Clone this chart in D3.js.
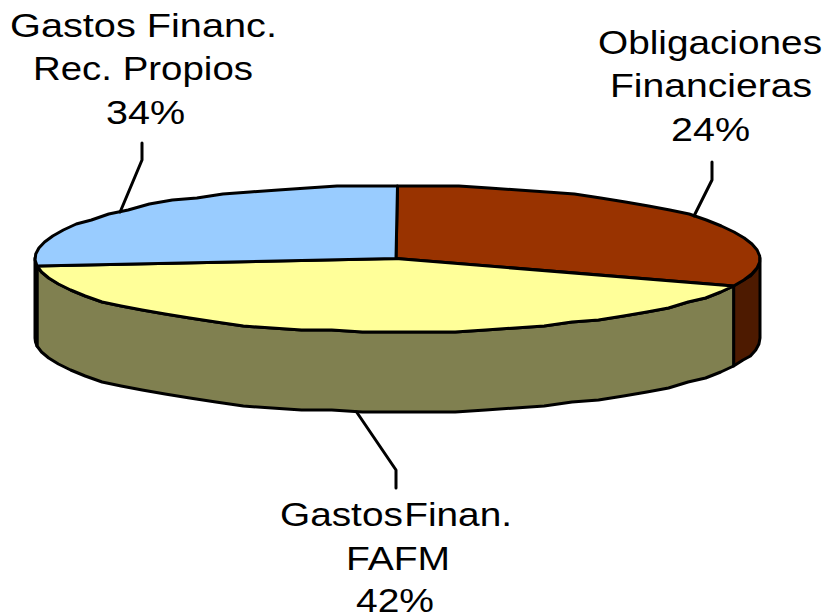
<!DOCTYPE html>
<html><head><meta charset="utf-8">
<script src="https://cdnjs.cloudflare.com/ajax/libs/d3/7.8.5/d3.min.js"></script>
<style>html,body{margin:0;padding:0;background:#fff}svg{display:block}
text{font-family:"Liberation Sans",Arial,sans-serif;fill:#000;font-size:33px}</style>
</head><body><svg id="c" width="825" height="613"></svg>
<script>
const categories = ["Obligaciones Financieras", "Gastos Finan. FAFM", "Gastos Financ. Rec. Propios"];
const values = [24, 42, 34];
const labelLines = [
  ["Obligaciones", "Financieras", "24%"],
  ["Gastos Finan.", "FAFM", "42%"],
  ["Gastos Financ.", "Rec. Propios", "34%"]
];
const topColors = ["#993300", "#FFFF99", "#99CCFF"];
const wallColors = ["#4D1A00", "#808050", "#4D6680"];

// layout
const cx = 397.5, cy = 258.5, rx = 362.5, ry = 73.5, depth = 80, step = 5, grid = 2;
const labelLayout = [
  {lines:[[598,224,54],[610,202,97],[671,79,141]], leader:[[712,162],[712,180]], at:0.49},
  {lines:[[280,232,526],[346,104,570],[356,78,612]], leader:[[396,488],[396,470]], at:0.49},
  {lines:[[10,267,37],[33,220,80],[106,79,124]], leader:[[142,143],[142,160]], at:0.48}
];

const svg = d3.select("#c");
const arcs = d3.pie().sort(null).value(d => d)(values);
// the source's perspective drawing shifts slice boundaries on the ellipse
const bounds = [0, arcs[0].endAngle, arcs[1].endAngle, 2 * Math.PI];
const project = d3.scaleLinear().domain(bounds).range([0, 112, 264, 360].map(d => d * Math.PI / 180));
const px = d3.scaleLinear().domain([-1, 1]).range([cx - rx, cx + rx]);
const py = d3.scaleLinear().domain([-1, 1]).range([cy + ry, cy - ry]);
// the source outline is coarse: heights snap to a small grid
const snap = y => Math.round(y / grid) * grid;
const pt = (t, dz = 0) => [px(Math.sin(t)), snap(py(Math.cos(t))) + dz];
const line = d3.line();
const sample = (a, b) => {
  const n = Math.max(1, Math.ceil(Math.abs(b - a) * 180 / Math.PI / step));
  return d3.range(n + 1).map(i => a + (b - a) * i / n);
};
const styled = s => s.attr("stroke", "#000").attr("stroke-width", 3).attr("stroke-linejoin", "round").attr("stroke-linecap", "round");

// walls (front only)
const wall = (a, b, fill) => {
  const ts = sample(a, b);
  const poly = ts.map(t => pt(t)).concat(ts.slice().reverse().map(t => pt(t, depth)));
  svg.append("path").attr("d", line(poly) + "Z").attr("fill", fill).call(styled);
};
wall(Math.PI / 2, project(arcs[0].endAngle), wallColors[0]);
wall(project(arcs[1].startAngle), project(arcs[1].endAngle), wallColors[1]);
wall(project(arcs[2].startAngle), 3 * Math.PI / 2, wallColors[1]);

// top slices
arcs.forEach((a, i) => {
  const ts = sample(project(a.startAngle), project(a.endAngle));
  const poly = [[cx - 1.5, cy]].concat(ts.map(t => pt(t)));
  svg.append("path").attr("d", line(poly) + "Z").attr("fill", topColors[i]).call(styled);
});

// leaders and labels
arcs.forEach((a, i) => {
  const L = labelLayout[i];
  const t0 = project(a.startAngle), t1 = project(a.endAngle);
  const t = t0 + (t1 - t0) * L.at;
  const end = i === 1 ? pt(t, depth) : pt(t);
  svg.append("path").attr("d", line(L.leader.concat([end]))).attr("fill", "none").call(styled);
  labelLines[i].forEach((s, j) => {
    const [x, w, y] = L.lines[j];
    svg.append("text").attr("x", x).attr("y", y)
      .attr("textLength", w).attr("lengthAdjust", "spacingAndGlyphs")
      .style("word-spacing", i === 1 && j === 0 ? "-8px" : null).text(s);
  });
});
</script></body></html>
